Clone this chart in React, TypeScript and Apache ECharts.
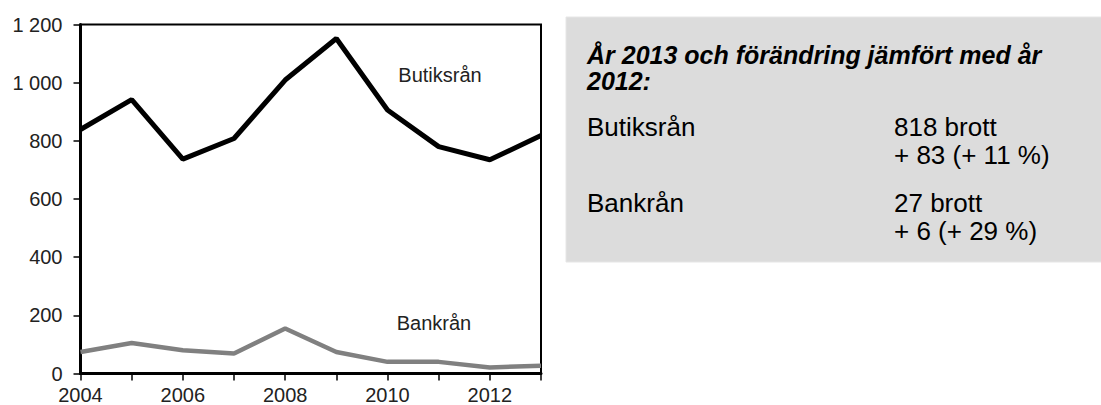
import React, { useEffect, useRef } from "react";
import * as echarts from "echarts";

const years = ["2004", "2005", "2006", "2007", "2008", "2009", "2010", "2011", "2012", "2013"];
const butiksran = [839, 942, 737, 808, 1009, 1152, 906, 780, 735, 818];
const bankran = [74, 105, 80, 69, 155, 74, 40, 40, 21, 27];
const yTicks = { min: 0, max: 1200, interval: 200 };

const boxTitle = ["År 2013 och förändring jämfört med år", "2012:"];
const boxRows = [
  { name: "Butiksrån", lines: ["818 brott", "+ 83 (+ 11 %)"] },
  { name: "Bankrån", lines: ["27 brott", "+ 6 (+ 29 %)"] },
];

const FONT = "'Liberation Sans', Arial, sans-serif";

export default function App() {
  const ref = useRef<HTMLDivElement>(null);
  useEffect(() => {
    if (!ref.current) return;
    const chart = echarts.init(ref.current, undefined, { renderer: "svg" });
    const graphic: any[] = [
      {
        type: "rect",
        shape: { x: 566, y: 17, width: 540, height: 245 },
        style: { fill: "#dcdcdc", stroke: "#e6e6e6", lineWidth: 1 },
        z: 0,
      },
      {
        type: "text",
        x: 587,
        y: 55,
        style: { text: boxTitle[0], font: `italic bold 25px ${FONT}`, fill: "#000", verticalAlign: "middle", lineHeight: 25 },
      },
      {
        type: "text",
        x: 587,
        y: 81,
        style: { text: boxTitle[1], font: `italic bold 25px ${FONT}`, fill: "#000", verticalAlign: "middle", lineHeight: 25 },
      },
    ];
    const rowY = [[127, 155], [203, 231]];
    boxRows.forEach((r, i) => {
      graphic.push({
        type: "text",
        x: 587,
        y: rowY[i][0],
        style: { text: r.name, font: `26px ${FONT}`, fill: "#000", verticalAlign: "middle" },
      });
      r.lines.forEach((l, j) => {
        graphic.push({
          type: "text",
          x: 894,
          y: rowY[i][j],
          style: { text: l, font: `26px ${FONT}`, fill: "#000", verticalAlign: "middle" },
        });
      });
    });
    graphic.push(
      {
        type: "text",
        x: 440,
        y: 75,
        style: { text: "Butiksrån", font: `20px ${FONT}`, fill: "#222", align: "center", verticalAlign: "middle" },
      },
      {
        type: "text",
        x: 434,
        y: 323,
        style: { text: "Bankrån", font: `20px ${FONT}`, fill: "#222", align: "center", verticalAlign: "middle" },
      }
    );

    chart.setOption({
      animation: false,
      textStyle: { fontFamily: FONT },
      grid: {
        left: 80.5,
        top: 24.5,
        width: 460.5,
        height: 349,
        show: true,
        borderColor: "#000",
        borderWidth: 2,
        backgroundColor: "transparent",
        containLabel: false,
        outerBoundsMode: "none",
      },
      xAxis: {
        type: "category",
        data: years,
        boundaryGap: false,
        axisLine: { lineStyle: { color: "#000", width: 3 } },
        axisTick: { show: true, interval: 0, length: 7, lineStyle: { color: "#000", width: 1.5 } },
        axisLabel: { interval: 1, margin: 11, fontSize: 20, color: "#222", fontFamily: FONT },
        splitLine: { show: false },
      },
      yAxis: {
        type: "value",
        min: yTicks.min,
        max: yTicks.max,
        interval: yTicks.interval,
        axisLine: { show: true, lineStyle: { color: "#000", width: 3 } },
        axisTick: { show: true, length: 7, lineStyle: { color: "#000", width: 1.5 } },
        axisLabel: {
          margin: 18,
          fontSize: 20,
          color: "#222",
          fontFamily: FONT,
          formatter: (v: number) => String(v).replace(/\B(?=(\d{3})+(?!\d))/g, " "),
        },
        splitLine: { show: false },
      },
      series: [
        {
          name: "Butiksrån",
          type: "line",
          data: butiksran,
          symbol: "none",
          lineStyle: { color: "#000", width: 5 },
          z: 3,
        },
        {
          name: "Bankrån",
          type: "line",
          data: bankran,
          symbol: "none",
          lineStyle: { color: "#808080", width: 4.5 },
          z: 3,
        },
      ],
      graphic,
    });
    return () => chart.dispose();
  }, []);
  return (
    <div
      ref={ref}
      style={{ position: "fixed", left: 0, top: 0, width: 1101, height: 405, background: "#fff" }}
    />
  );
}
